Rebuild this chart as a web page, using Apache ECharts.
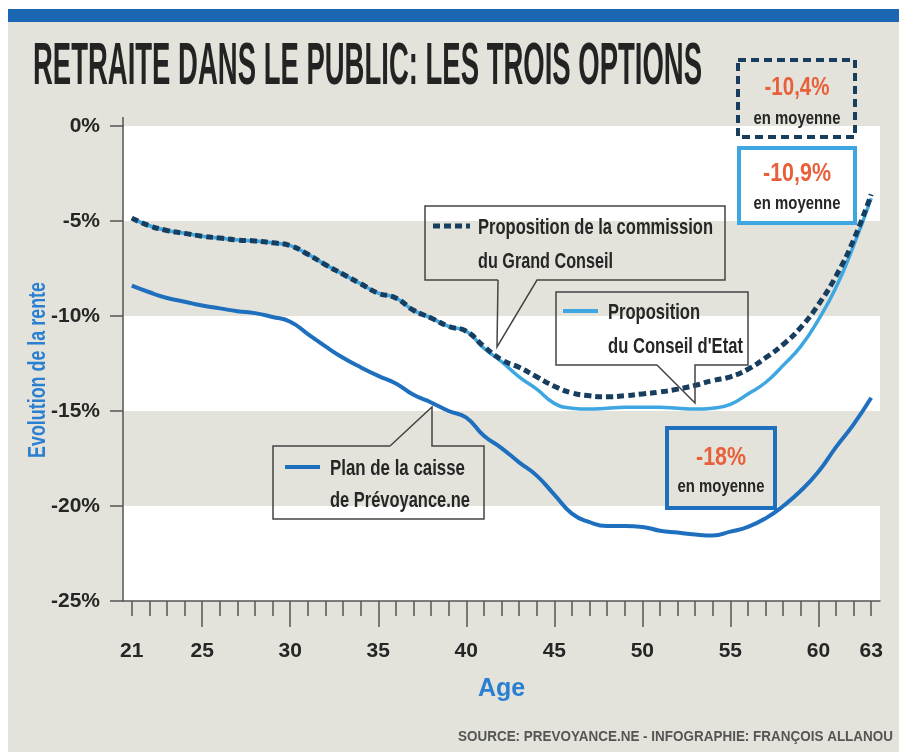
<!DOCTYPE html>
<html>
<head>
<meta charset="utf-8">
<script src="https://cdn.jsdelivr.net/npm/echarts@6/dist/echarts.min.js"></script>
<style>
  html, body { margin: 0; padding: 0; background: #fff; }
  #main { width: 899px; height: 752px; }
</style>
</head>
<body>
<div id="main"></div>
<script>
// ages 21..63
const ages = [21, 22, 23, 24, 25, 26, 27, 28, 29, 30, 31, 32, 33, 34, 35, 36, 37, 38, 39, 40, 41,
  42, 43, 44, 45, 46, 47, 48, 49, 50, 51, 52, 53, 54, 55, 56, 57, 58, 59, 60, 61, 62, 63];
// Proposition de la commission du Grand Conseil
const commission = [-4.85, -5.25, -5.5, -5.65, -5.8, -5.9, -6.0, -6.05, -6.15, -6.3, -6.75,
  -7.3, -7.8, -8.3, -8.8, -9.05, -9.7, -10.1, -10.55, -10.8, -11.6,
  -12.3, -12.7, -13.2, -13.7, -14.05, -14.2, -14.25, -14.2, -14.1, -14.0,
  -13.85, -13.65, -13.4, -13.2, -12.8, -12.2, -11.5, -10.6, -9.4, -7.9, -6.0, -3.6];
// Proposition du Conseil d'Etat
const conseilEtat = [-4.85, -5.25, -5.5, -5.65, -5.8, -5.9, -6.0, -6.05, -6.15, -6.3, -6.75,
  -7.3, -7.8, -8.3, -8.8, -9.05, -9.7, -10.1, -10.55, -10.8, -11.7,
  -12.4, -13.2, -13.85, -14.6, -14.85, -14.9, -14.85, -14.8, -14.8, -14.8,
  -14.85, -14.9, -14.85, -14.65, -14.1, -13.5, -12.6, -11.6, -10.2, -8.5, -6.3, -3.8];
// Plan de la caisse de Prévoyance.ne
const plan = [-8.4, -8.75, -9.05, -9.25, -9.45, -9.6, -9.75, -9.85, -10.05, -10.3, -10.95,
  -11.6, -12.2, -12.7, -13.15, -13.55, -14.15, -14.55, -15.0, -15.35, -16.3,
  -16.95, -17.7, -18.4, -19.4, -20.4, -20.85, -21.05, -21.05, -21.1, -21.3,
  -21.4, -21.5, -21.55, -21.35, -21.1, -20.65, -20.0, -19.2, -18.2, -16.9, -15.7, -14.3];
const labeledAges = [21, 25, 30, 35, 40, 45, 50, 55, 60, 63];
const averages = ['-10,4%', '-10,9%', '-18%'];

const BG = '#e4e3db';
const NAVY = '#173d5f', LIGHT = '#3ea6e0', BLUE = '#1f6fbf', ORANGE = '#e8603a', INK = '#262626';
const AXISBLUE = '#2a7fd1';
const NARROW = '"Liberation Sans Narrow", "Liberation Sans", Roboto, sans-serif';
const BASE = '"Liberation Sans", Arial, sans-serif';

const ctx = document.createElement('canvas').getContext('2d');
// bold text squeezed to the width it takes in the picture
function fitText(text, x, y, size, width, color, align, rotation) {
  const font = 'bold ' + size + 'px ' + BASE;
  ctx.font = font;
  const w = ctx.measureText(text).width;
  return {
    type: 'text', x: x, y: y, scaleX: width / w, rotation: rotation || 0, z: 20,
    style: { text: text, fill: color, font: font, align: align || 'left', verticalAlign: 'middle' }
  };
}
function outline(points) {
  return {
    type: 'polyline', z: 15,
    shape: { points: points.concat([points[0]]) },
    style: { stroke: '#444', lineWidth: 1.5, fill: null }
  };
}
function sample(x1, x2, y, color, width, dash) {
  return {
    type: 'line', z: 16,
    shape: { x1: x1, y1: y, x2: x2, y2: y },
    style: { stroke: color, lineWidth: width, lineDash: dash || null }
  };
}

const axisColor = '#555';
const labelStyle = { fontFamily: NARROW, fontWeight: 'bold', color: INK };

const chart = echarts.init(document.getElementById('main'));
chart.setOption({
  backgroundColor: BG,
  animation: false,
  grid: { left: 123, right: 19, top: 126, bottom: 151 },
  xAxis: [{
    type: 'category',
    data: ages,
    position: 'bottom',
    boundaryGap: true,
    axisLine: { show: true, onZero: false, lineStyle: { color: axisColor, width: 1.5 } },
    axisTick: { show: true, alignWithLabel: true, interval: 0, length: 15, lineStyle: { color: axisColor, width: 1.5 } },
    axisLabel: Object.assign({
      interval: function (i, v) { return labeledAges.indexOf(+v) >= 0; },
      margin: 40, fontSize: 21
    }, labelStyle),
    name: 'Age',
    nameLocation: 'middle',
    nameGap: 76,
    nameTextStyle: { fontFamily: NARROW, fontWeight: 'bold', fontSize: 25, color: AXISBLUE }
  }, {
    type: 'category',
    data: ages,
    position: 'bottom',
    boundaryGap: true,
    axisLine: { show: false, onZero: false },
    axisTick: {
      show: true,
      alignWithLabel: true,
      interval: function (i, v) { return +v % 5 === 0; },
      length: 26,
      lineStyle: { color: axisColor, width: 1.5 }
    },
    axisLabel: { show: false }
  }],
  yAxis: {
    type: 'value',
    min: -25,
    max: 0,
    interval: 5,
    axisLine: { show: true, lineStyle: { color: axisColor, width: 1.5 } },
    axisTick: { show: true, length: 13, lineStyle: { color: axisColor, width: 1.5 } },
    splitLine: { show: false },
    splitArea: { show: true, areaStyle: { color: ['#ffffff', BG] } },
    axisLabel: Object.assign({ formatter: '{value}%', margin: 23, fontSize: 21 }, labelStyle)
  },
  series: [{
    name: "Proposition du Conseil d'Etat",
    type: 'line',
    data: conseilEtat,
    smooth: true,
    symbol: 'none',
    z: 3,
    lineStyle: { color: LIGHT, width: 3.5 }
  }, {
    name: 'Proposition de la commission du Grand Conseil',
    type: 'line',
    data: commission,
    smooth: true,
    symbol: 'none',
    z: 4,
    lineStyle: { color: NAVY, width: 5, type: [7, 4] }
  }, {
    name: 'Plan de la caisse de Prévoyance.ne',
    type: 'line',
    data: plan,
    smooth: true,
    symbol: 'none',
    z: 3,
    lineStyle: { color: BLUE, width: 4 }
  }],
  graphic: [
    // page frame
    { type: 'rect', z: 30, shape: { x: 0, y: 0, width: 899, height: 9 }, style: { fill: '#fff' } },
    { type: 'rect', z: 30, shape: { x: 0, y: 0, width: 8, height: 752 }, style: { fill: '#fff' } },
    { type: 'rect', z: 31, shape: { x: 8, y: 9, width: 891, height: 13 }, style: { fill: '#1c67b3' } },
    // y axis line runs a little above 0%
    { type: 'line', z: 5, shape: { x1: 123, y1: 117, x2: 123, y2: 127 }, style: { stroke: axisColor, lineWidth: 1.5 } },

    fitText('RETRAITE DANS LE PUBLIC: LES TROIS OPTIONS', 33, 67, 60, 669, '#232323'),
    fitText('Evolution de la rente', 39, 370, 23, 176, AXISBLUE, 'center', Math.PI / 2),

    // callout: commission
    outline([[498, 280], [425, 280], [425, 206], [725, 206], [725, 280], [537, 280], [497, 347]]),
    sample(433, 470, 226, NAVY, 5, [7, 4]),
    fitText('Proposition de la commission', 478, 228, 22, 235, INK),
    fitText('du Grand Conseil', 478, 262, 22, 135, INK),

    // callout: Conseil d'Etat
    outline([[657, 365], [556, 365], [556, 292], [748, 292], [748, 365], [695, 365], [695, 403]]),
    sample(563, 598, 311, LIGHT, 4),
    fitText('Proposition', 608, 313, 22, 92, INK),
    fitText("du Conseil d'Etat", 608, 347, 22, 135, INK),

    // callout: Plan de la caisse
    outline([[390, 446], [273, 446], [273, 519], [484, 519], [484, 446], [432, 446], [432, 407]]),
    sample(285, 320, 467, BLUE, 4),
    fitText('Plan de la caisse', 330, 469, 22, 135, INK),
    fitText('de Prévoyance.ne', 330, 501, 22, 140, INK),

    // averages
    { type: 'rect', z: 15, shape: { x: 738, y: 60, width: 117, height: 77 },
      style: { fill: null, stroke: NAVY, lineWidth: 4, lineDash: [8, 5] } },
    fitText(averages[0], 797, 88, 26, 65, ORANGE, 'center'),
    fitText('en moyenne', 797, 119, 18, 87, INK, 'center'),

    { type: 'rect', z: 15, shape: { x: 739, y: 148, width: 116, height: 75 },
      style: { fill: '#fff', stroke: LIGHT, lineWidth: 4 } },
    fitText(averages[1], 797, 174, 26, 68, ORANGE, 'center'),
    fitText('en moyenne', 797, 204, 18, 87, INK, 'center'),

    { type: 'rect', z: 15, shape: { x: 667, y: 428, width: 108, height: 80 },
      style: { fill: null, stroke: BLUE, lineWidth: 4 } },
    fitText(averages[2], 721, 458, 26, 50, ORANGE, 'center'),
    fitText('en moyenne', 721, 487, 18, 87, INK, 'center'),

    fitText('SOURCE: PREVOYANCE.NE - INFOGRAPHIE: FRANÇOIS ALLANOU', 893, 737, 15, 435, '#555', 'right')
  ]
});
</script>
</body>
</html>
